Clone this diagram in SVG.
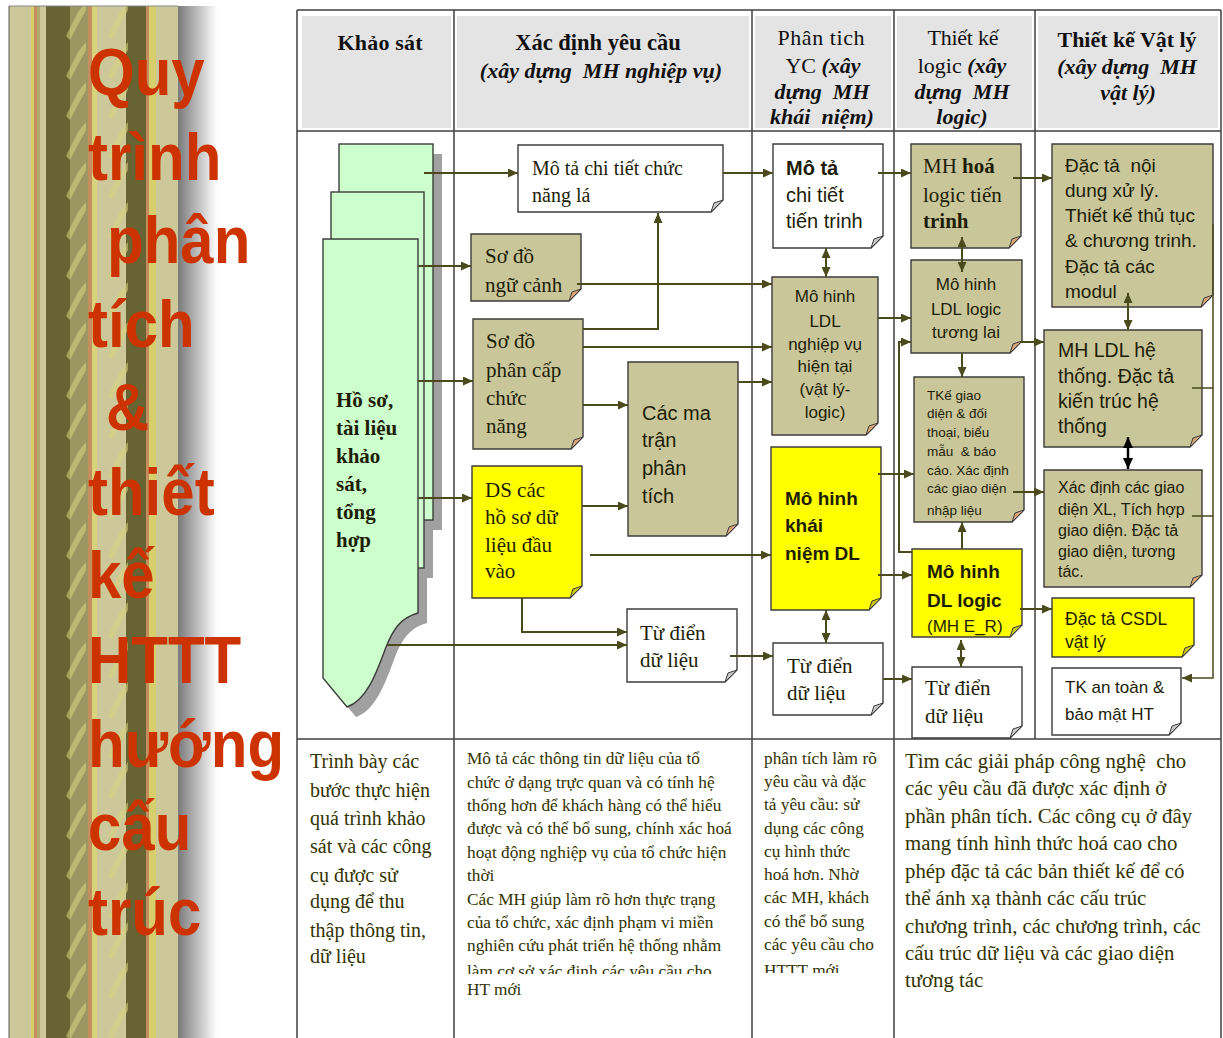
<svg xmlns="http://www.w3.org/2000/svg" width="1223" height="1038" viewBox="0 0 1223 1038">
<defs>
<linearGradient id="fade" x1="0" y1="0" x2="1" y2="0">
<stop offset="0" stop-color="#7a7a7a"/>
<stop offset="1" stop-color="#ffffff"/>
</linearGradient>
<pattern id="braid" x="64" y="0" width="42" height="40" patternUnits="userSpaceOnUse">
<polygon points="2,36 14,12 22,2 22,10 10,32 6,40" fill="#d8d27e" opacity="0.55"/>
</pattern>
<marker id="ah" markerWidth="10" markerHeight="9" refX="10" refY="4.5" orient="auto-start-reverse" markerUnits="userSpaceOnUse">
<path d="M0,0 L10,4.5 L0,9 Z" fill="#4a4a1c"/>
</marker>
<marker id="ahk" markerWidth="11" markerHeight="10" refX="11" refY="5" orient="auto-start-reverse" markerUnits="userSpaceOnUse">
<path d="M0,0 L11,5 L0,10 Z" fill="#000"/>
</marker>
<clipPath id="clipA"><rect x="460" y="950" width="290" height="24"/></clipPath>
<clipPath id="clipB"><rect x="756" y="950" width="136" height="23"/></clipPath>
</defs>
<style>
text{white-space:pre}
.doc{stroke:#3c3c3c;stroke-width:1.4}
.kh{fill:#c9c69a}
.yl{fill:#ffff00}
.wh{fill:#ffffff}
.fk{fill:#d8a476;stroke:#3c3c3c;stroke-width:1}
.fy{fill:#c8c810;stroke:#3c3c3c;stroke-width:1}
.fw{fill:#c8c8c8;stroke:#3c3c3c;stroke-width:1}
.serif{font-family:"Liberation Serif","Times New Roman",serif}
.sans{font-family:"Liberation Sans",Arial,sans-serif}
.t{fill:#1e1e06}
.con{fill:none;stroke:#4a4a1c;stroke-width:2}
.grid{stroke:#404040;stroke-width:1.5;fill:none}
.hd{font-family:"Liberation Serif","Times New Roman",serif;font-size:22px;fill:#111;text-anchor:middle}
.ttl{font-family:"Liberation Sans",Arial,sans-serif;font-weight:bold;font-size:60px;fill:#cc3300}
.bt{font-family:"Liberation Serif","Times New Roman",serif;fill:#333300}
</style>

<g id="banner">
<rect x="9" y="6" width="169" height="1032" fill="#ccc899"/>
<rect x="31" y="6" width="3" height="1032" fill="#d6cf6b"/>
<rect x="34" y="6" width="3" height="1032" fill="#c48e5e"/>
<rect x="37" y="6" width="3" height="1032" fill="#b0a970"/>
<rect x="46" y="6" width="24" height="1032" fill="#676333"/>
<rect x="70" y="6" width="18" height="1032" fill="#9c9663"/>
<rect x="88" y="6" width="4" height="1032" fill="#c48e5e"/>
<rect x="92" y="6" width="5" height="1032" fill="#d8d27a"/>
<rect x="126" y="6" width="20" height="1032" fill="#676333"/>
<rect x="146" y="6" width="3" height="1032" fill="#c48e5e"/>
<rect x="149" y="6" width="7" height="1032" fill="#d6cf6b"/>
<rect x="64" y="6" width="24" height="1032" fill="url(#braid)"/>
<rect x="106" y="6" width="24" height="1032" fill="url(#braid)"/>
<rect x="178" y="6" width="39" height="1032" fill="url(#fade)"/>
<line x1="9" y1="6" x2="9" y2="1038" stroke="#555" stroke-width="1"/>
<line x1="9" y1="6" x2="178" y2="6" stroke="#888" stroke-width="1"/>
</g>

<g id="title" class="ttl">
<text transform="translate(88,95) scale(1,1.1)">Quy</text>
<text transform="translate(88,180) scale(1,1.1)">trình</text>
<text transform="translate(107,263) scale(1,1.1)">phân</text>
<text transform="translate(88,347) scale(1,1.1)">tích</text>
<text transform="translate(106,430) scale(1,1.1)">&amp;</text>
<text transform="translate(88,515) scale(1,1.1)">thiết</text>
<text transform="translate(88,598) scale(1,1.1)">kế</text>
<text transform="translate(88,683) scale(1,1.1)">HTTT</text>
<text transform="translate(88,767) scale(1,1.1)">hướng</text>
<text transform="translate(88,850) scale(1,1.1)">cấu</text>
<text transform="translate(88,935) scale(1,1.1)">trúc</text>
</g>

<g id="table">
<rect x="302" y="16" width="149" height="112" fill="#e4e4e4"/>
<rect x="457" y="16" width="292" height="112" fill="#e4e4e4"/>
<rect x="755" y="16" width="136" height="112" fill="#e4e4e4"/>
<rect x="897" y="16" width="135" height="112" fill="#e4e4e4"/>
<rect x="1038" y="16" width="180" height="112" fill="#e4e4e4"/>
<path class="grid" d="M297,10 H1221 M297,131 H1221 M297,739 H1221 M297,10 V1038 M454,10 V1038 M752,10 V1038 M894,10 V1038 M1035,10 V739 M1221,10 V1038"/>
<g class="hd">
<text x="380" y="50" font-weight="bold" textLength="85">Khảo sát</text>
<text x="598" y="50" font-weight="bold" font-size="22.5">Xác định yêu cầu</text>
<text x="601" y="78" font-weight="bold" font-style="italic">(xây dựng  MH nghiệp vụ)</text>
<text x="821" y="45" textLength="87">Phân tich</text>
<text x="823" y="73">YC <tspan font-style="italic" font-weight="bold">(xây</tspan></text>
<text x="822" y="99" font-style="italic" font-weight="bold">dựng  MH</text>
<text x="822" y="124" font-style="italic" font-weight="bold">khái  niệm)</text>
<text x="963" y="45" textLength="71">Thiết kế</text>
<text x="962" y="73">logic <tspan font-style="italic" font-weight="bold">(xây</tspan></text>
<text x="962" y="99" font-style="italic" font-weight="bold">dựng  MH</text>
<text x="962" y="124" font-style="italic" font-weight="bold">logic)</text>
<text x="1127" y="47" font-weight="bold" textLength="139">Thiết kế Vật lý</text>
<text x="1127" y="74" font-style="italic" font-weight="bold">(xây dựng  MH</text>
<text x="1128" y="100" font-style="italic" font-weight="bold">vật lý)</text>
</g>
</g>

<g id="ho-so">
<g fill="#a0a0a0" transform="translate(9,10)">
<rect x="339" y="144" width="94" height="376"/>
<rect x="331" y="192" width="93" height="376"/>
<path d="M323,239 H418 V613 C400,618 393,630 386,647 C378,668 368,700 347,707 L323,678 Z"/>
</g>
<rect class="doc" x="339" y="144" width="94" height="376" fill="#ccffcc"/>
<rect class="doc" x="331" y="192" width="93" height="376" fill="#ccffcc"/>
<path class="doc" d="M323,239 H418 V613 C400,618 393,630 386,647 C378,668 368,700 347,707 L323,678 Z" fill="#ccffcc"/>
<g class="serif t" font-weight="bold" font-size="21">
<text x="336" y="407">Hồ sơ,</text>
<text x="336" y="435">tài liệu</text>
<text x="336" y="463">khảo</text>
<text x="336" y="491">sát,</text>
<text x="336" y="519">tổng</text>
<text x="336" y="547">hợp</text>
</g>
</g>

<g id="mo-ta-chuc-nang-la">
<path class="doc wh" d="M518,145 H723 V200 L711,212 H518 Z"/>
<path class="fw" d="M723,200 L711,212 L714,203 Z"/>
<g class="serif t" font-size="20"><text x="532" y="175">Mô tả chi tiết chức</text><text x="532" y="202">năng lá</text></g>
</g>

<g id="so-do-ngu-canh">
<path class="doc kh" d="M471,234 H581 V289 L569,301 H471 Z"/>
<path class="fk" d="M581,289 L569,301 L572,292 Z"/>
<g class="serif t" font-size="21"><text x="485" y="263">Sơ đồ</text><text x="485" y="292">ngữ cảnh</text></g>
</g>

<g id="so-do-phan-cap">
<path class="doc kh" d="M473,319 H583 V437 L571,449 H473 Z"/>
<path class="fk" d="M583,437 L571,449 L574,440 Z"/>
<g class="serif t" font-size="21"><text x="486" y="348">Sơ đồ</text><text x="486" y="377">phân cấp</text><text x="486" y="405">chức</text><text x="486" y="433">năng</text></g>
</g>

<g id="ma-tran">
<path class="doc kh" d="M628,362 H738 V524 L726,536 H628 Z"/>
<path class="fk" d="M738,524 L726,536 L729,527 Z"/>
<g class="sans t" font-size="20"><text x="642" y="420">Các ma</text><text x="642" y="447">trận</text><text x="642" y="475">phân</text><text x="642" y="503">tích</text></g>
</g>

<g id="ds-ho-so">
<path class="doc yl" d="M472,466 H582 V586 L570,598 H472 Z"/>
<path class="fy" d="M582,586 L570,598 L573,589 Z"/>
<g class="serif t" font-size="21"><text x="485" y="497">DS các</text><text x="485" y="524">hồ sơ dữ</text><text x="485" y="552">liệu đầu</text><text x="485" y="578">vào</text></g>
</g>

<g id="tu-dien-1">
<path class="doc wh" d="M627,609 H737 V670 L725,682 H627 Z"/>
<path class="fw" d="M737,670 L725,682 L728,673 Z"/>
<g class="serif t" font-size="21"><text x="640" y="640">Từ điển</text><text x="640" y="667">dữ liệu</text></g>
</g>

<g id="mo-ta-tien-trinh">
<path class="doc wh" d="M773,144 H883 V236 L871,248 H773 Z"/>
<path class="fw" d="M883,236 L871,248 L874,239 Z"/>
<g class="sans t" font-size="20"><text x="786" y="175" font-weight="bold">Mô tả</text><text x="786" y="202">chi tiết</text><text x="786" y="228">tiến trinh</text></g>
</g>

<g id="ldl-nghiep-vu">
<path class="doc kh" d="M772,277 H878 V423 L866,435 H772 Z"/>
<path class="fk" d="M878,423 L866,435 L869,426 Z"/>
<g class="sans t" font-size="17" text-anchor="middle"><text x="825" y="302">Mô hinh</text><text x="825" y="327">LDL</text><text x="825" y="350">nghiệp vụ</text><text x="825" y="372">hiện tại</text><text x="825" y="395">(vật lý-</text><text x="825" y="418">logic)</text></g>
</g>

<g id="khai-niem-dl">
<path class="doc yl" d="M771,447 H881 V598 L869,610 H771 Z"/>
<path class="fy" d="M881,598 L869,610 L872,601 Z"/>
<g class="sans t" font-size="19" font-weight="bold"><text x="785" y="505">Mô hinh</text><text x="785" y="532">khái</text><text x="785" y="560">niệm DL</text></g>
</g>

<g id="tu-dien-2">
<path class="doc wh" d="M773,643 H883 V703 L871,715 H773 Z"/>
<path class="fw" d="M883,703 L871,715 L874,706 Z"/>
<g class="serif t" font-size="21"><text x="787" y="673">Từ điển</text><text x="787" y="700">dữ liệu</text></g>
</g>

<g id="mh-hoa-logic">
<path class="doc kh" d="M911,144 H1021 V236 L1009,248 H911 Z"/>
<path class="fk" d="M1021,236 L1009,248 L1012,239 Z"/>
<g class="serif t" font-size="21"><text x="923" y="173">MH <tspan font-weight="bold">hoá</tspan></text><text x="923" y="202">logic tiến</text><text x="923" y="228" font-weight="bold">trinh</text></g>
</g>

<g id="ldl-logic-tuong-lai">
<path class="doc kh" d="M911,260 H1022 V341 L1010,353 H911 Z"/>
<path class="fk" d="M1022,341 L1010,353 L1013,344 Z"/>
<g class="sans t" font-size="17" text-anchor="middle"><text x="966" y="290">Mô hinh</text><text x="966" y="315">LDL logic</text><text x="966" y="338">tương lai</text></g>
</g>

<g id="tk-giao-dien">
<path class="doc kh" d="M914,377 H1024 V510 L1012,522 H914 Z"/>
<path class="fk" d="M1024,510 L1012,522 L1015,513 Z"/>
<g class="sans t" font-size="13.5"><text x="927" y="400">TKế giao</text><text x="927" y="418">diện &amp; đối</text><text x="927" y="437">thoại, biểu</text><text x="927" y="456">mẫu  &amp; báo</text><text x="927" y="475">cáo. Xác định</text><text x="927" y="493">các giao diện</text><text x="927" y="515">nhập liệu</text></g>
</g>

<g id="dl-logic">
<path class="doc yl" d="M912,549 H1022 V625 L1010,637 H912 Z"/>
<path class="fy" d="M1022,625 L1010,637 L1013,628 Z"/>
<g class="sans t"><text x="927" y="578" font-size="19" font-weight="bold">Mô hinh</text><text x="927" y="607" font-size="19" font-weight="bold">DL logic</text><text x="927" y="632" font-size="17">(MH E_R)</text></g>
</g>

<g id="tu-dien-3">
<path class="doc wh" d="M912,667 H1022 V726 L1010,738 H912 Z"/>
<path class="fw" d="M1022,726 L1010,738 L1013,729 Z"/>
<g class="serif t" font-size="21"><text x="925" y="695">Từ điển</text><text x="925" y="723">dữ liệu</text></g>
</g>

<g id="dac-ta-xu-ly">
<path class="doc kh" d="M1052,144 H1213 V295 L1201,307 H1052 Z"/>
<path class="fk" d="M1213,295 L1201,307 L1204,298 Z"/>
<g class="sans t" font-size="19"><text x="1065" y="172">Đặc tả  nội</text><text x="1065" y="197">dung xử lý.</text><text x="1065" y="222">Thiết kế thủ tục</text><text x="1065" y="247">&amp; chương trinh.</text><text x="1065" y="273">Đặc tả các</text><text x="1065" y="298">modul</text></g>
</g>

<g id="ldl-he-thong">
<path class="doc kh" d="M1044,330 H1202 V435 L1190,447 H1044 Z"/>
<path class="fk" d="M1202,435 L1190,447 L1193,438 Z"/>
<g class="sans t" font-size="19.5"><text x="1058" y="357">MH LDL hệ</text><text x="1058" y="383">thống. Đặc tả</text><text x="1058" y="408">kiến trúc hệ</text><text x="1058" y="433">thống</text></g>
</g>

<g id="xac-dinh-giao-dien">
<path class="doc kh" d="M1044,470 H1202 V575 L1190,587 H1044 Z"/>
<path class="fk" d="M1202,575 L1190,587 L1193,578 Z"/>
<g class="sans t" font-size="16"><text x="1058" y="493">Xác định các giao</text><text x="1058" y="515">diện XL, Tích hợp</text><text x="1058" y="536">giao diện. Đặc tả</text><text x="1058" y="557">giao diện, tương</text><text x="1058" y="577">tác.</text></g>
</g>

<g id="csdl-vat-ly">
<path class="doc yl" d="M1052,598 H1194 V645 L1182,657 H1052 Z"/>
<path class="fy" d="M1194,645 L1182,657 L1185,648 Z"/>
<g class="sans t" font-size="17.5"><text x="1065" y="625">Đặc tả CSDL</text><text x="1065" y="648">vật lý</text></g>
</g>

<g id="an-toan">
<path class="doc wh" d="M1052,668 H1181 V723 L1169,735 H1052 Z"/>
<path class="fw" d="M1181,723 L1169,735 L1172,726 Z"/>
<g class="sans t" font-size="17"><text x="1065" y="693">TK an toàn &amp;</text><text x="1065" y="720">bảo mật HT</text></g>
</g>

<g id="connectors">
<g class="con" marker-end="url(#ah)">
<path d="M424,173 H518"/>
<path d="M418,266 H471"/>
<path d="M418,381 H473"/>
<path d="M418,498 H472"/>
<path d="M387,645 H627"/>
<path d="M522,598 V632 H627"/>
<path d="M583,329 H658 V213"/>
<path d="M577,284 H772"/>
<path d="M583,347 H772"/>
<path d="M738,382 H772"/>
<path d="M583,405 H628"/>
<path d="M582,506 H628"/>
<path d="M590,555 H771"/>
<path d="M730,656 H773"/>
<path d="M723,173 H773"/>
<path d="M878,173 H911"/>
<path d="M878,318 H911"/>
<path d="M962,353 V377"/>
<path d="M1013,178 H1052"/>
<path d="M1020,342 H1044"/>
<path d="M912,552 H899 V342 H911"/>
<path d="M878,474 H914"/>
<path d="M878,575 H912"/>
<path d="M883,679 H912"/>
<path d="M962,549 V522"/>
<path d="M1020,609 H1052"/>
<path d="M1013,492 H1044"/>
</g>
<g class="con" marker-start="url(#ah)" marker-end="url(#ah)">
<path d="M826,248 V277"/>
<path d="M962,237 V272"/>
<path d="M1128,293 V330"/>
<path d="M826,610 V643"/>
<path d="M961,640 V667"/>
</g>
<path d="M1128,437 V469" fill="none" stroke="#000" stroke-width="2.5" marker-start="url(#ahk)" marker-end="url(#ahk)"/>
<path d="M1213,224 V678 H1182" fill="none" stroke="#4a4a1c" stroke-width="1.5" marker-end="url(#ah)"/>
<path d="M1192,388 H1213 M1192,516 H1213" fill="none" stroke="#4a4a1c" stroke-width="1.5"/>
</g>

<g id="notes" class="bt">
<g font-size="20">
<text x="310" y="768">Trình bày các</text>
<text x="310" y="797">bước thực hiện</text>
<text x="310" y="825">quá trình khảo</text>
<text x="310" y="853">sát và các công</text>
<text x="310" y="882">cụ được sử</text>
<text x="310" y="908">dụng để thu</text>
<text x="310" y="937">thập thông tin,</text>
<text x="310" y="963">dữ liệu</text>
</g>
<g font-size="17.3">
<text x="467" y="764">Mô tả các thông tin dữ liệu của tổ</text>
<text x="467" y="788">chức ở dạng trực quan và có tính hệ</text>
<text x="467" y="811">thống hơn để khách hàng có thể hiểu</text>
<text x="467" y="834">được và có thể bổ sung, chính xác hoá</text>
<text x="467" y="858">hoạt động nghiệp vụ của tổ chức hiện</text>
<text x="467" y="881">thời</text>
<text x="467" y="905">Các MH giúp làm rõ hơn thực trạng</text>
<text x="467" y="928">của tổ chức, xác định phạm vi miền</text>
<text x="467" y="951">nghiên cứu phát triển hệ thống nhằm</text>
<text x="467" y="977" clip-path="url(#clipA)">làm cơ sở xác định các yêu cầu cho</text>
<text x="467" y="995">HT mới</text>
</g>
<g font-size="17.3">
<text x="764" y="764">phân tích làm rõ</text>
<text x="764" y="787">yêu cầu và đặc</text>
<text x="764" y="810">tả yêu cầu: sử</text>
<text x="764" y="834">dụng các công</text>
<text x="764" y="857">cụ hình thức</text>
<text x="764" y="880">hoá hơn. Nhờ</text>
<text x="764" y="903">các MH, khách</text>
<text x="764" y="927">có thể bổ sung</text>
<text x="764" y="950">các yêu cầu cho</text>
<text x="764" y="976" clip-path="url(#clipB)">HTTT mới</text>
</g>
<g font-size="20.8">
<text x="905" y="768">Tìm các giải pháp công nghệ  cho</text>
<text x="905" y="795">các yêu cầu đã được xác định ở</text>
<text x="905" y="823">phần phân tích. Các công cụ ở đây</text>
<text x="905" y="850">mang tính hình thức hoá cao cho</text>
<text x="905" y="878">phép đặc tả các bản thiết kế để có</text>
<text x="905" y="905">thể ánh xạ thành các cấu trúc</text>
<text x="905" y="933">chương trình, các chương trình, các</text>
<text x="905" y="960">cấu trúc dữ liệu và các giao diện</text>
<text x="905" y="987">tương tác</text>
</g>
</g>
</svg>
